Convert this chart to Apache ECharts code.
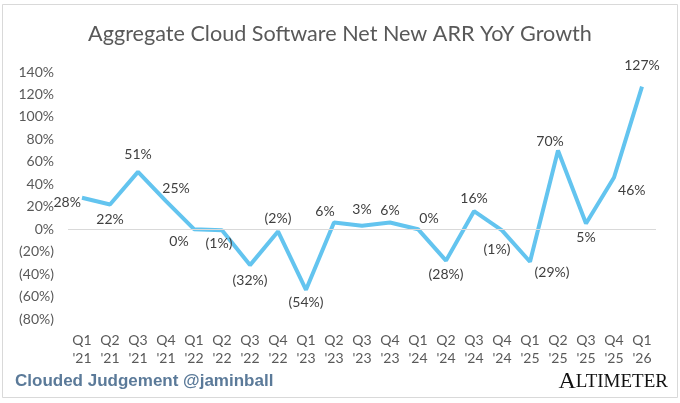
<!DOCTYPE html>
<html><head><meta charset="utf-8">
<script src="https://cdn.jsdelivr.net/npm/echarts@6/dist/echarts.min.js"></script>
<style>html,body{margin:0;padding:0;background:#fff}#c{width:680px;height:403px}</style>
</head><body><div id="c"></div>
<script>
const categories = ["Q1\n'21","Q2\n'21","Q3\n'21","Q4\n'21","Q1\n'22","Q2\n'22","Q3\n'22","Q4\n'22","Q1\n'23","Q2\n'23","Q3\n'23","Q4\n'23","Q1\n'24","Q2\n'24","Q3\n'24","Q4\n'24","Q1\n'25","Q2\n'25","Q3\n'25","Q4\n'25","Q1\n'26"];
const growth = [28,22,51,25,0,-1,-32,-2,-54,6,3,6,0,-28,16,-1,-29,70,5,46,127];
const yTicks = { min: -80, max: 140, step: 20 };
const titleText = "Aggregate Cloud Software Net New ARR YoY Growth";
const footerLeft = "Clouded Judgement @jaminball";

// label placement per point (style only)
const place = [
  {position:'left', distance:1, offset:[0,5]},
  {position:'bottom', distance:8},
  {position:'top', distance:10},
  {position:'top', distance:6, offset:[10,0]},
  {position:'bottom', distance:5, offset:[-15,0]},
  {position:'bottom', distance:6, offset:[-3,0]},
  {position:'bottom', distance:8},
  {position:'top', distance:6},
  {position:'bottom', distance:6},
  {position:'top', distance:4, offset:[-9,0]},
  {position:'top', distance:9},
  {position:'top', distance:5},
  {position:'top', distance:4, offset:[11,0]},
  {position:'bottom', distance:7},
  {position:'top', distance:6},
  {position:'bottom', distance:12, offset:[-5,0]},
  {position:'bottom', distance:4, offset:[22,0]},
  {position:'top', distance:2, offset:[-8,0]},
  {position:'bottom', distance:7},
  {position:'right', distance:4, offset:[0,13]},
  {position:'top', distance:14}
];
const fmt = v => v < 0 ? '(' + Math.abs(v) + '%)' : v + '%';
const labelStyle = { show: true, formatter: p => fmt(p.value), color: '#404040', fontFamily: 'Lato', fontSize: 14 };

const chart = echarts.init(document.getElementById('c'));
chart.setOption({
  animation: false,
  backgroundColor: '#fff',
  title: { text: titleText, left: 'center', top: 18,
    textStyle: { fontFamily: 'Lato', fontSize: 21.6, fontWeight: 'normal', color: '#595959' } },
  grid: { left: 68, right: 24, top: 72, bottom: 84 },
  xAxis: { type: 'category', data: categories, boundaryGap: true,
    axisLine: { show: false }, axisTick: { show: false },
    axisLabel: { color: '#595959', fontFamily: 'Lato', fontSize: 14, lineHeight: 18, margin: 12, interval: 0 } },
  yAxis: { type: 'value', min: yTicks.min, max: yTicks.max, interval: yTicks.step,
    splitLine: { show: false }, axisLine: { show: false }, axisTick: { show: false },
    axisLabel: { color: '#595959', fontFamily: 'Lato', fontSize: 14, margin: 14, formatter: v => fmt(v) } },
  series: [{
    type: 'line', data: growth.map((v, i) => ({ value: v, label: Object.assign({}, labelStyle, place[i]) })),
    symbol: 'circle', symbolSize: 0.1, showSymbol: true,
    lineStyle: { color: '#63C4EF', width: 4 }, itemStyle: { color: '#63C4EF' },
    label: labelStyle,
    markLine: { silent: true, symbol: 'none', label: { show: false },
      lineStyle: { color: '#d9d9d9', type: 'solid', width: 1 }, data: [{ yAxis: 0 }] },
    z: 3
  }],
  graphic: [
    { type: 'rect', shape: { x: 2.5, y: 4.5, width: 675, height: 393 }, style: { fill: null, stroke: '#d9d9d9', lineWidth: 1 }, silent: true },
    { type: 'text', left: 15, top: 373, style: { text: footerLeft, fontFamily: 'Liberation Sans', fontWeight: 'bold', fontSize: 17, fill: '#5b7a99' } },
    { type: 'text', right: 12, top: 370, style: { text: '{a|A}{b|LTIMETER}', rich: {
      a: { fontFamily: 'Liberation Serif', fontSize: 24, fill: '#111' },
      b: { fontFamily: 'Liberation Serif', fontSize: 19, fill: '#111' } } } }
  ]
});
</script></body></html>
